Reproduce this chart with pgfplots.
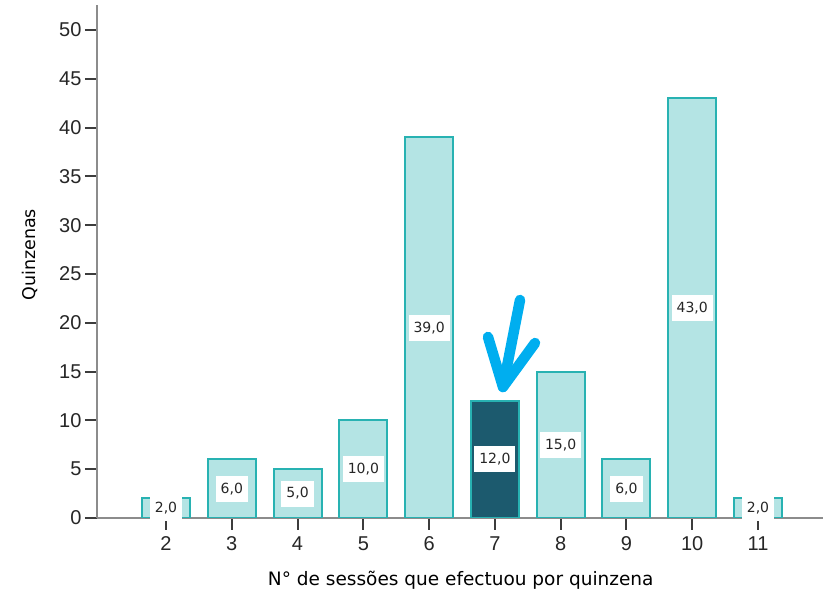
\documentclass[border=0pt]{standalone}
\usepackage{fontspec}
\setmainfont{Liberation Sans}
\newfontfamily\dejavu{DejaVu Sans}
\usepackage{pgfplots}
\pgfplotsset{compat=1.18}
\definecolor{barfill}{RGB}{180,228,228}
\definecolor{baredge}{RGB}{40,178,178}
\definecolor{darkfill}{RGB}{28,90,110}
\definecolor{arrowblue}{RGB}{0,174,239}
\definecolor{axgray}{RGB}{140,140,140}
\definecolor{tickgray}{RGB}{60,60,60}
\begin{document}
\begin{tikzpicture}
\path[use as bounding box] (0,0) rectangle (823pt,600pt);
\begin{axis}[
  at={(97pt,82pt)}, anchor=south west,
  scale only axis, width=726pt, height=513pt,
  xmin=0.951, xmax=11.988, ymin=0, ymax=52.56,
  axis x line=bottom, axis y line=left,
  axis line style={-, axgray, line width=2.5pt},
  xtick={2,3,4,5,6,7,8,9,10,11},
  ytick={0,5,10,15,20,25,30,35,40,45,50},
  tick style={tickgray, line width=2pt},
  major tick length=12pt,
  tick align=outside,
  /pgf/number format/assume math mode=true,
  ticklabel style={font=\fontsize{20}{22}\selectfont, text=black!85},
  xticklabel style={yshift=-3pt},
  xlabel={\dejavu N° de sessões que efectuou por quinzena},
  ylabel={\dejavu Quinzenas},
  xlabel style={at={(axis description cs:0.501,-0.121)}, anchor=center, font=\fontsize{18.5}{20}\selectfont},
  ylabel style={at={(axis description cs:-0.092,0.513)}, anchor=center, font=\fontsize{17.5}{19}\selectfont},
  ybar, bar width=48pt, bar shift=0pt,
  visualization depends on=rawy \as \rawy,
  nodes near coords={\pgfmathprintnumber[fixed,fixed zerofill,precision=1,use comma,assume math mode=true]{\pgfplotspointmeta}},
  every node near coord/.append style={anchor=center, shift={(axis direction cs:0,-\rawy/2)}, fill=white, text=black!85, font=\dejavu\fontsize{14}{16}\selectfont, minimum height=26pt, inner xsep=5pt},
]
\addplot[fill=barfill, draw=baredge, line width=2pt] coordinates {
  (2,2) (3,6) (4,5) (5,10) (6,39) (8,15) (9,6) (10,43) (11,2)};
\addplot[fill=darkfill, draw=baredge, line width=2pt] coordinates {(7,12)};
\draw[arrowblue, line width=10.5pt, line cap=round, line join=round]
  (axis cs:7.382,22.34) -- (axis cs:7.123,13.42);
\draw[arrowblue, line width=10.5pt, line cap=round, line join=round]
  (axis cs:6.895,18.55) -- (axis cs:7.123,13.42) -- (axis cs:7.610,17.93);
\end{axis}
\end{tikzpicture}
\end{document}
